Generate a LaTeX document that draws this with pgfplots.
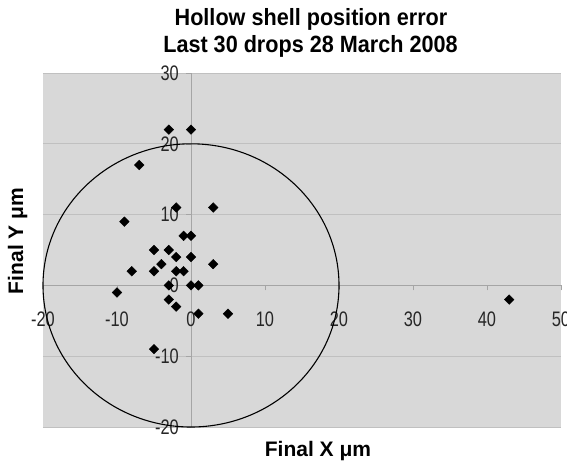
\documentclass[border=0pt]{standalone}
\usepackage{fontspec}
\setmainfont{Liberation Sans}
\newfontfamily\tickfont{Liberation Sans}[FakeStretch=0.78]
\newfontfamily\titlefont{Liberation Sans}[FakeStretch=0.92]
\usepackage{pgfplots}
\pgfplotsset{compat=1.18}
\definecolor{bgcol}{RGB}{216,216,216}
\definecolor{gridcol}{RGB}{192,192,192}
\definecolor{axcol}{RGB}{165,165,165}
\begin{document}
\begin{tikzpicture}
\begin{axis}[
  at={(43bp,37bp)}, anchor=south west,
  scale only axis, width=518bp, height=354bp,
  xmin=-20, xmax=50, ymin=-20, ymax=30,
  enlargelimits=false,
  axis lines=middle,
  axis line style={axcol, line width=0.8pt, -},
  axis background/.style={fill=bgcol},
  xtick={-20,-10,0,10,20,30,40,50},
  ytick={-20,-10,0,10,20,30},
  hide obscured x ticks=false, hide obscured y ticks=false,
  ymajorgrids, grid style={gridcol, line width=0.9pt},
  major tick length=5bp,
  tick style={axcol, line width=0.6pt},
  xtick align=outside, ytick align=outside,
  /pgf/number format/assume math mode=true,
  tick label style={font=\tickfont\fontsize{21bp}{21bp}\selectfont, text=black!85},
  xticklabel style={anchor=north, inner sep=0pt, yshift=-21bp},
  yticklabel style={anchor=east, inner sep=0pt, xshift=-7bp},
  clip=false,
]
\addplot[only marks, mark=square*, mark size=3.4bp, mark options={rotate=45, fill=black, draw=black}]
coordinates {
(-3,22) (0,22) (-7,17) (-2,11) (3,11) (-9,9) (-1,7) (0,7)
(-5,5) (-3,5) (-2,4) (0,4) (-4,3) (3,3) (-8,2) (-5,2)
(-2,2) (-1,2) (-3,0) (0,0) (1,0) (-10,-1) (-3,-2) (-2,-3)
(1,-4) (5,-4) (-5,-9) (43,-2)
};
\draw[black, line width=1.1pt] (axis cs:0,0) ellipse [x radius=20, y radius=20];
\end{axis}
\node[anchor=base, font=\titlefont\bfseries\fontsize{23.5bp}{27bp}\selectfont] at (311bp,438.3bp) {Hollow shell position error};
\node[anchor=base, font=\titlefont\bfseries\fontsize{23.5bp}{27bp}\selectfont] at (310.5bp,411.3bp) {Last 30 drops 28 March 2008};
\node[anchor=base, font=\bfseries\fontsize{21bp}{21bp}\selectfont] at (318bp,7.3bp) {Final X μm};
\node[anchor=base, rotate=90, font=\bfseries\fontsize{21bp}{21bp}\selectfont] at (23bp,223bp) {Final Y μm};
\pgfresetboundingbox
\path[use as bounding box] (0,0) rectangle (567bp,464bp);
\end{tikzpicture}
\end{document}
